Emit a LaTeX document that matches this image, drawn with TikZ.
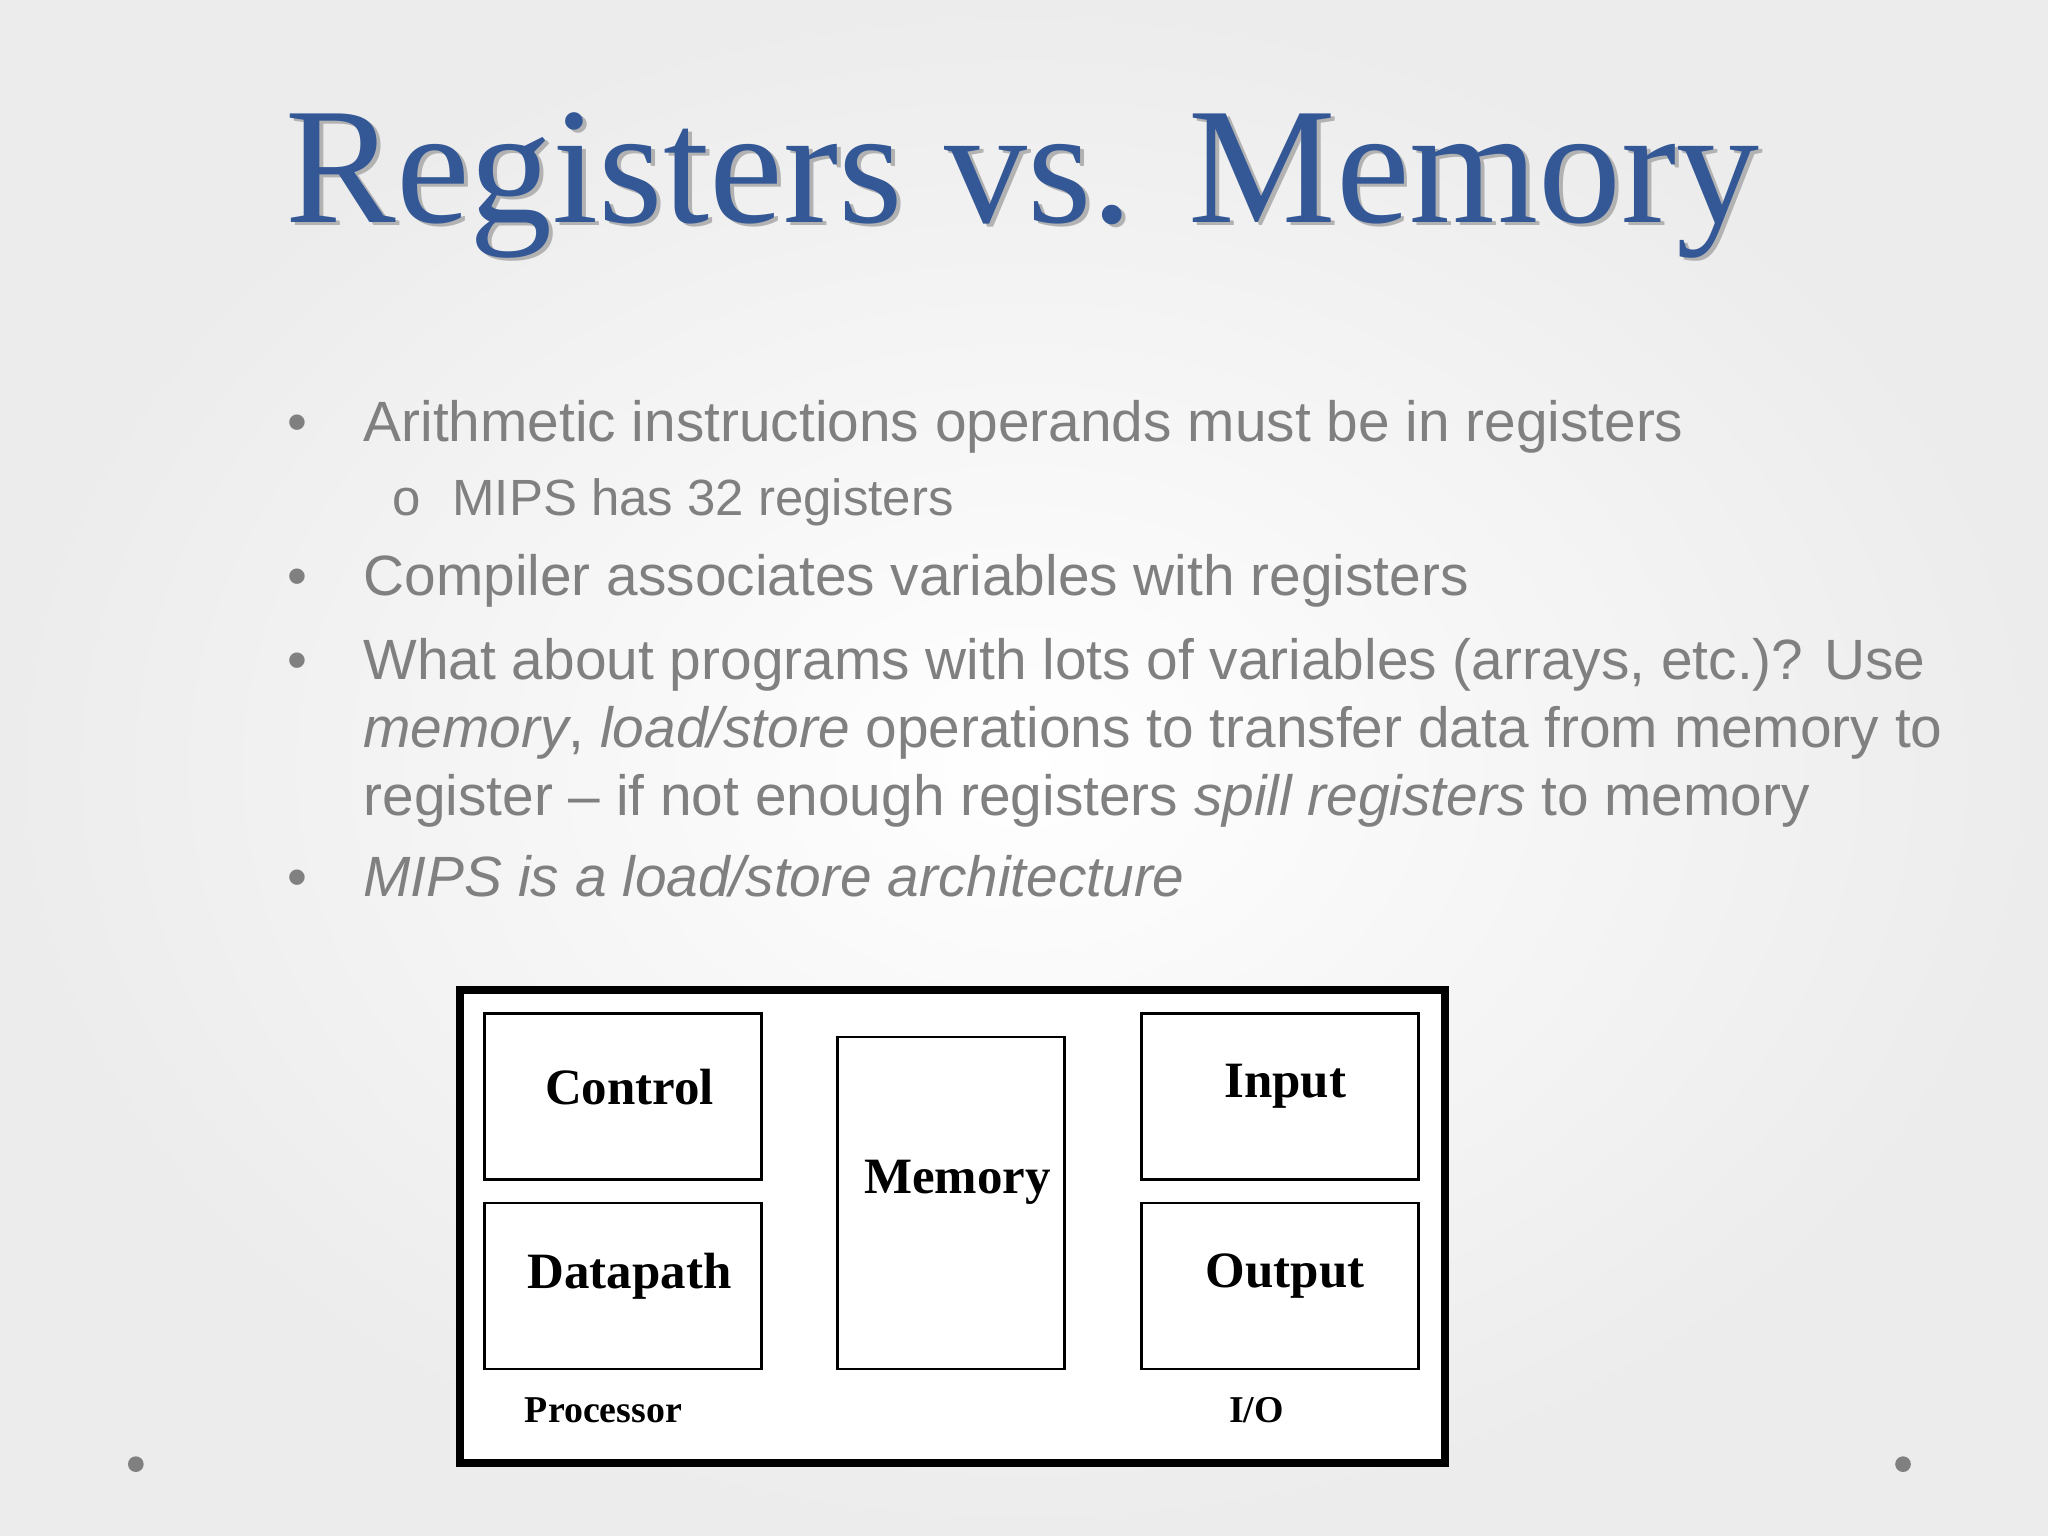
\documentclass[tikz,border=0pt]{standalone}
\usepackage{fontspec}
\setmainfont{Liberation Sans}
\newfontfamily\serifx{Liberation Serif}
\definecolor{titleblue}{RGB}{52,88,150}
\definecolor{txtgray}{RGB}{128,128,128}
\definecolor{bgout}{RGB}{236,236,236}
\begin{document}
\begin{tikzpicture}[x=0.5pt,y=-0.5pt,
  bul/.style={anchor=base west,text=txtgray,font=\fontsize{21.75}{25}\selectfont,inner sep=0},
  sub/.style={anchor=base west,text=txtgray,font=\fontsize{19.5}{22}\selectfont,inner sep=0},
  box/.style={draw=black,line width=1pt,fill=white},
  lab/.style={font=\serifx\bfseries\fontsize{19.5}{22}\selectfont},
  small/.style={font=\serifx\bfseries\fontsize{14.5}{17}\selectfont}]
\shade[inner color=white,outer color=bgout] (0,0) rectangle (1568,1176);
\useasboundingbox (0,0) rectangle (1568,1176);
\node[text=black!30,font=\serifx\fontsize{63.5}{70}\selectfont,anchor=base] at (786,173) {Registers vs. Memory};
\node (title)[text=titleblue,font=\serifx\fontsize{63.5}{70}\selectfont,anchor=base] at (783,170) {Registers vs. Memory};
\foreach \y in {338,456,520,686}{\node[bul] at (220,\y) {•};}
\node[sub] at (300,395) {o};
\node (b1)[bul] at (278,338) {Arithmetic instructions operands must be in registers};
\node (b1a)[sub] at (346,395) {MIPS has 32 registers};
\node (b2)[bul] at (278,456) {Compiler associates variables with registers};
\node (b3)[bul] at (278,520) {What about programs with lots of variables (arrays, etc.)? Use};
\node (b3b)[bul] at (278,572) {\textit{memory}, \textit{load/store} operations to transfer data from memory to};
\node (b3c)[bul] at (278,624) {register – if not enough registers \textit{spill registers} to memory};
\node (b4)[bul] at (278,686) {\textit{MIPS is a load/store architecture}};
\draw[line width=3pt,fill=white] (352,758) rectangle (1106,1120);
\draw[box] (371,776) rectangle (583,903); \node (ctl)[lab] at (482,832) {Control};
\draw[box] (371,921) rectangle (583,1048); \node (dp)[lab] at (482,977) {Datapath};
\draw[box] (641,794) rectangle (815,1048); \node (mem)[lab] at (733,905) {Memory};
\draw[box] (874,776) rectangle (1086,903); \node (in)[lab] at (984,832) {Input};
\draw[box] (874,921) rectangle (1086,1048); \node (out)[lab] at (984,977) {Output};
\node (proc)[small] at (462,1080) {Processor};
\node (io)[small] at (962,1080) {I/O};
\fill[txtgray] (104,1121) circle (6);
\fill[txtgray] (1457,1121) circle (6);
\end{tikzpicture}
\end{document}
